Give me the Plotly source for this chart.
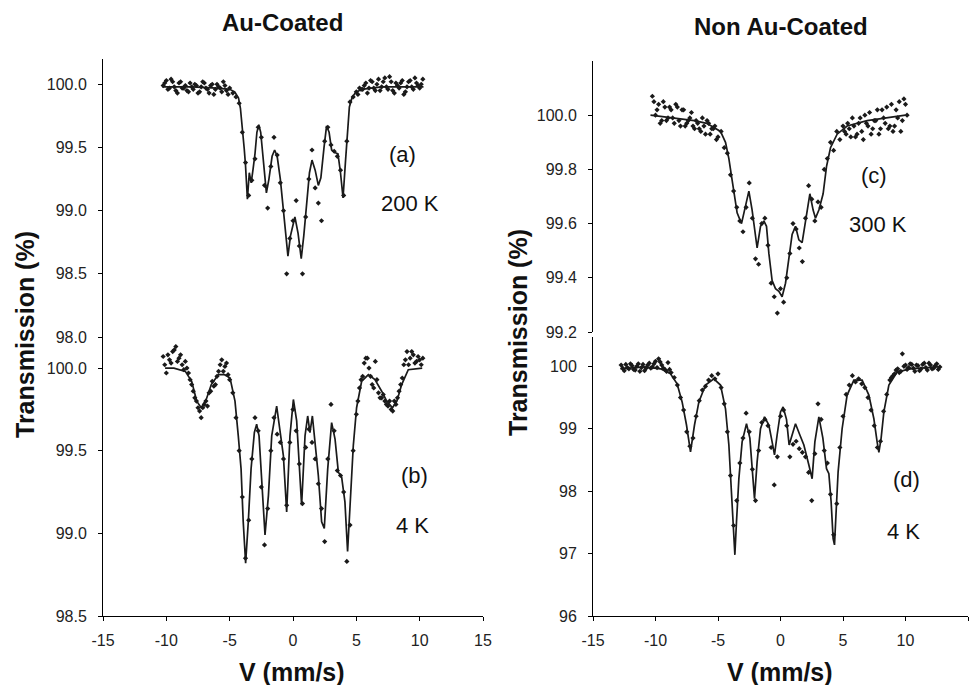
import plotly.graph_objects as go

# ---------------- data ----------------
# velocity grids of the measured points (mm/s)
v_grid_ab = [-10.25, -10.0, -9.75, -9.5, -9.25, -9.0, -8.75, -8.5, -8.25, -8.0,
             -7.75, -7.5, -7.25, -7.0, -6.75, -6.5, -6.25, -6.0, -5.75, -5.5,
             -5.25, -5.0, -4.75, -4.5, -4.25, -4.0, -3.75, -3.5, -3.25, -3.0,
             -2.75, -2.5, -2.25, -2.0, -1.75, -1.5, -1.25, -1.0, -0.75, -0.5,
             -0.25, 0.0, 0.25, 0.5, 0.75, 1.0, 1.25, 1.5, 1.75, 2.0,
             2.25, 2.5, 2.75, 3.0, 3.25, 3.5, 3.75, 4.0, 4.25, 4.5,
             4.75, 5.0, 5.25, 5.5, 5.75, 6.0, 6.25, 6.5, 6.75, 7.0,
             7.25, 7.5, 7.75, 8.0, 8.25, 8.5, 8.75, 9.0, 9.25, 9.5,
             9.75, 10.0, 10.25]
v_grid_c = [-10.25, -10.0, -9.75, -9.5, -9.25, -9.0, -8.75, -8.5, -8.25, -8.0,
            -7.75, -7.5, -7.25, -7.0, -6.75, -6.5, -6.25, -6.0, -5.75, -5.5,
            -5.25, -5.0, -4.75, -4.5, -4.25, -4.0, -3.75, -3.5, -3.25, -3.0,
            -2.75, -2.5, -2.25, -2.0, -1.75, -1.5, -1.25, -1.0, -0.75, -0.5,
            -0.25, 0.0, 0.25, 0.5, 0.75, 1.0, 1.25, 1.5, 1.75, 2.0,
            2.25, 2.5, 2.75, 3.0, 3.25, 3.5, 3.75, 4.0, 4.25, 4.5,
            4.75, 5.0, 5.25, 5.5, 5.75, 6.0, 6.25, 6.5, 6.75, 7.0,
            7.25, 7.5, 7.75, 8.0, 8.25, 8.5, 8.75, 9.0, 9.25, 9.5,
            9.75, 10.0]
v_grid_d = [-12.75, -12.5, -12.25, -12.0, -11.75, -11.5, -11.25, -11.0, -10.75, -10.5,
            -10.25, -10.0, -9.75, -9.5, -9.25, -9.0, -8.75, -8.5, -8.25, -8.0,
            -7.75, -7.5, -7.25, -7.0, -6.75, -6.5, -6.25, -6.0, -5.75, -5.5,
            -5.25, -5.0, -4.75, -4.5, -4.25, -4.0, -3.75, -3.5, -3.25, -3.0,
            -2.75, -2.5, -2.25, -2.0, -1.75, -1.5, -1.25, -1.0, -0.75, -0.5,
            -0.25, 0.0, 0.25, 0.5, 0.75, 1.0, 1.25, 1.5, 1.75, 2.0,
            2.25, 2.5, 2.75, 3.0, 3.25, 3.5, 3.75, 4.0, 4.25, 4.5,
            4.75, 5.0, 5.25, 5.5, 5.75, 6.0, 6.25, 6.5, 6.75, 7.0,
            7.25, 7.5, 7.75, 8.0, 8.25, 8.5, 8.75, 9.0, 9.25, 9.5,
            9.75, 10.0, 10.25, 10.5, 10.75, 11.0, 11.25, 11.5, 11.75, 12.0,
            12.25, 12.5, 12.75]
# interleaved channels in the wings
v_half_abc = [-10.125, -9.875, -9.625, -9.375, -9.125, -8.875, -8.625, -8.375, -8.125, -7.875,
              -7.625, -7.375, -7.125, -6.875, -6.625, -6.375, -6.125, -5.875, -5.625, -5.375,
              -5.125, 5.125, 5.375, 5.625, 5.875, 6.125, 6.375, 6.625, 6.875, 7.125,
              7.375, 7.625, 7.875, 8.125, 8.375, 8.625, 8.875, 9.125, 9.375, 9.625,
              9.875, 10.125]
v_half_d = [-12.625, -12.375, -12.125, -11.875, -11.625, -11.375, -11.125, -10.875, -10.625, -10.375,
            -10.125, -9.875, -9.625, -9.375, -9.125, -8.875, 8.875, 9.125, 9.375, 9.625,
            9.875, 10.125, 10.375, 10.625, 10.875, 11.125, 11.375, 11.625, 11.875, 12.125,
            12.375, 12.625]

# (a) Au-coated, 200 K : measured points
pts_a = [99.99, 100.03, 99.97, 100.02, 99.95, 100.01, 99.97, 99.99, 99.94, 99.98,
         100.0, 99.93, 99.98, 100.01, 99.96, 99.99, 99.92, 100.0, 99.97, 100.02,
         99.95, 99.97, 99.93, 99.90, 99.85, 99.62, 99.38, 99.12, 99.24, 99.41,
         99.66, 99.58, 99.20, 99.02, 99.35, 99.58, 99.44, 99.22, 99.0, 98.50,
         98.78, 98.92, 99.08, 98.72, 98.50, 98.95, 99.25, 99.48, 99.18, 99.06,
         98.92, 99.55, 99.66, 99.52, 99.47, 99.43, 99.32, 99.12, 99.55, 99.86,
         99.90, 99.94, 99.97, 99.96, 100.01, 99.97, 100.02, 99.95, 100.04, 99.98,
         100.05, 99.96, 100.02, 99.93, 99.99, 100.01, 99.92, 99.98, 100.03, 99.96,
         100.01, 99.97, 100.04]
pts_a_half = [100.01, 99.96, 100.04, 99.98, 99.93, 100.02, 99.97, 99.95, 100.01, 99.96,
              99.99, 99.94, 100.02, 99.97, 99.93, 100.0, 99.96, 99.98, 99.94, 99.99,
              99.92, 99.92, 99.96, 99.99, 99.93, 100.03, 99.97, 100.0, 99.95, 100.02,
              99.98, 100.06, 99.95, 100.01, 99.97, 100.03, 99.94, 100.02, 99.98, 100.05,
              99.99, 100.0]
# (b) Au-coated, 4 K
pts_b = [100.07, 99.97, 100.05, 100.10, 100.13, 100.06, 100.02, 100.04, 99.97, 99.90,
         99.82, 99.76, 99.70, 99.78, 99.77, 99.86, 99.89, 99.95, 100.02, 99.98,
         100.03, 99.93, 99.85, 99.70, 99.50, 99.22, 98.85, 99.08, 99.45, 99.70,
         99.62, 99.28, 98.93, 99.15, 99.50, 99.70, 99.60, 99.55, 99.45, 99.17,
         99.55, 99.75, 99.62, 99.42, 99.18, 99.52, 99.63, 99.55, 99.45, 99.30,
         99.15, 98.95, 99.45, 99.78, 99.62, 99.38, 99.35, 99.25, 98.83, 99.05,
         99.50, 99.72, 99.88, 99.95, 100.06, 100.0, 99.90, 100.04, 99.85, 99.82,
         99.80, 99.77, 99.75, 99.80, 99.82, 99.90, 100.02, 100.10, 100.06, 100.08,
         100.04, 100.05, 100.06]
pts_b_half = [100.02, 100.08, 100.03, 100.11, 100.04, 100.08, 99.99, 100.0, 99.93, 99.86,
              99.80, 99.74, 99.76, 99.80, 99.85, 99.92, 99.90, 99.98, 100.05, 100.01,
              99.96, 99.80, 99.93, 100.03, 100.06, 99.95, 99.88, 99.93, 99.82, 99.84,
              99.78, 99.80, 99.74, 99.78, 99.86, 99.94, 100.05, 100.02, 100.10, 100.03,
              100.07, 100.02]
# (c) non Au-coated, 300 K
pts_c = [100.07, 100.0, 100.04, 99.98, 100.03, 99.99, 100.02, 99.97, 100.03, 99.96,
         100.02, 99.97, 99.99, 99.96, 99.98, 99.95, 99.99, 99.93, 99.97, 99.95,
         99.96, 99.92, 99.94, 99.88, 99.86, 99.78, 99.72, 99.66, 99.61, 99.57,
         99.66, 99.75, 99.62, 99.47, 99.45, 99.60, 99.62, 99.52, 99.38, 99.33,
         99.27, 99.36, 99.31, 99.40, 99.49, 99.60, 99.58, 99.51, 99.46, 99.62,
         99.74, 99.69, 99.61, 99.68, 99.66, 99.80, 99.84, 99.90, 99.87, 99.94,
         99.91, 99.96, 99.93, 99.95, 99.99, 99.92, 99.97, 99.94, 100.0, 99.96,
         99.93, 99.98, 100.02, 99.95, 99.99, 100.03, 99.96, 99.94, 100.02, 100.05,
         99.98, 100.04]
pts_c_half = [100.05, 100.02, 99.97, 100.05, 99.98, 100.03, 99.99, 100.04, 99.98, 100.02,
              99.96, 99.98, 100.01, 99.95, 99.97, 99.94, 99.96, 99.98, 99.93, 99.95,
              99.91, 99.94, 99.97, 99.92, 99.96, 99.93, 99.99, 99.91, 99.97, 100.01,
              99.95, 99.98, 99.93, 100.02, 99.97, 99.95, 100.04, 99.96, 99.99, 99.94,
              100.06, 100.0]
# (d) non Au-coated, 4 K
pts_d = [100.02, 99.93, 99.98, 100.04, 99.95, 100.0, 99.92, 100.03, 99.97, 100.05,
         99.99, 100.08, 100.12, 100.02, 99.95, 100.06, 99.90, 99.82, 99.70, 99.50,
         99.30, 98.95, 98.72, 98.85, 99.20, 99.45, 99.62, 99.68, 99.78, 99.85,
         99.80, 99.88, 99.66, 99.40, 98.95, 98.25, 97.45, 97.85, 98.45, 98.85,
         99.25, 98.95, 98.35, 97.85, 98.65, 99.10, 99.15, 99.05, 98.70, 98.10,
         98.55, 99.20, 99.30, 99.05, 98.55, 98.75, 98.80, 98.68, 98.62, 98.55,
         98.30, 97.85, 98.60, 99.40, 99.15, 98.65, 98.45, 97.95, 97.30, 97.80,
         98.70, 99.20, 99.55, 99.70, 99.85, 99.75, 99.80, 99.72, 99.66, 99.50,
         99.30, 99.05, 98.70, 98.80, 99.28, 99.55, 99.78, 99.85, 99.94, 99.90,
         100.20, 100.02, 99.98, 100.03, 99.92, 100.01, 99.96, 100.05, 99.94, 100.02,
         99.97, 100.04, 99.99]
pts_d_half = [99.97, 100.03, 99.96, 100.01, 99.94, 100.04, 99.98, 99.93, 100.02, 99.97,
              100.04, 99.98, 100.07, 99.97, 99.92, 99.95, 99.82, 99.88, 99.96, 99.92,
              100.0, 99.95, 100.04, 99.97, 100.02, 99.93, 100.03, 99.98, 100.05, 99.96,
              100.01, 99.95]

# fitted curves
fit_a_x = [-10.3, -8.0, -6.0, -5.0, -4.6, -4.3, -4.15, -4.0, -3.85, -3.75, -3.6, -3.45, -3.3,
           -3.15, -3.0, -2.85, -2.7, -2.55, -2.35, -2.1, -1.9, -1.65, -1.45, -1.25, -1.0,
           -0.7, -0.4, -0.2, 0.15, 0.4, 0.65, 0.85, 1.05, 1.3, 1.5, 1.75, 2.0, 2.2, 2.45,
           2.65, 2.85, 3.05, 3.3, 3.55, 3.75, 3.95, 4.15, 4.3, 4.45, 4.65, 4.9, 5.4, 7.0, 10.3]
fit_a_y = [99.98, 99.98, 99.97, 99.96, 99.94, 99.89, 99.81, 99.67, 99.49, 99.36, 99.09, 99.30, 99.22,
           99.33, 99.45, 99.62, 99.68, 99.62, 99.40, 99.14, 99.25, 99.43, 99.48, 99.43, 99.25,
           98.95, 98.64, 98.80, 98.95, 98.82, 98.62, 98.80, 99.00, 99.30, 99.40, 99.32, 99.20, 99.26, 99.50,
           99.67, 99.62, 99.48, 99.46, 99.45, 99.30, 99.10, 99.40, 99.65, 99.82, 99.89, 99.93, 99.96, 99.98, 99.98]

fit_b_x = [-10.1, -9.4, -8.5, -8.0, -7.6, -7.25, -6.85, -6.45, -5.9, -5.4, -4.97, -4.58, -4.32,
           -4.1, -3.93, -3.74, -3.53, -3.31, -3.05, -2.87, -2.68, -2.47, -2.21, -1.94, -1.68,
           -1.29, -1.03, -0.76, -0.5, -0.24, 0.03, 0.29, 0.68, 0.95, 1.16, 1.34, 1.53, 1.74,
           2.0, 2.26, 2.47, 2.74, 3.05, 3.32, 3.58, 3.84, 4.1, 4.31, 4.52, 4.76, 5.02, 5.42,
           5.95, 6.47, 7.0, 7.4, 7.85, 8.2, 8.58, 9.1, 10.2]
fit_b_y = [100.0, 100.0, 99.98, 99.92, 99.80, 99.76, 99.81, 99.90, 99.96, 99.96, 99.94, 99.80, 99.59,
           99.39, 99.07, 98.82, 99.07, 99.39, 99.61, 99.66, 99.59, 99.29, 98.99, 99.23, 99.59,
           99.77, 99.61, 99.47, 99.13, 99.59, 99.81, 99.68, 99.17, 99.59, 99.71, 99.61, 99.71, 99.55,
           99.35, 99.07, 99.03, 99.39, 99.67, 99.57, 99.37, 99.34, 99.19, 98.89, 99.19, 99.53, 99.76, 99.92,
           99.96, 99.93, 99.86, 99.80, 99.76, 99.80, 99.90, 99.99, 100.0]

fit_c_x = [-10.4, -8.5, -6.9, -5.9, -4.8, -4.4, -4.13, -3.87, -3.68, -3.47, -3.12, -2.8, -2.53,
           -2.27, -2.05, -1.87, -1.6, -1.33, -1.12, -0.93, -0.67, -0.4, -0.13, 0.13, 0.4, 0.67,
           0.93, 1.2, 1.47, 1.73, 2.0, 2.35, 2.61, 2.8, 3.07, 3.41, 3.68, 4.0, 4.53, 5.33, 6.93, 10.0]
fit_c_y = [100.0, 99.99, 99.98, 99.97, 99.94, 99.90, 99.84, 99.76, 99.70, 99.64, 99.60, 99.67, 99.72,
           99.65, 99.56, 99.51, 99.59, 99.61, 99.59, 99.49, 99.39, 99.36, 99.35, 99.33, 99.38, 99.47,
           99.56, 99.59, 99.54, 99.53, 99.61, 99.71, 99.65, 99.62, 99.65, 99.71, 99.81, 99.88, 99.93,
           99.96, 99.98, 100.0]

fit_d_x = [-12.8, -10.9, -9.6, -8.8, -8.27, -7.87, -7.52, -7.2, -6.88, -6.53, -6.0, -5.33, -4.8,
           -4.4, -4.13, -3.95, -3.79, -3.65, -3.52, -3.33, -3.07, -2.72, -2.45, -2.27, -2.08,
           -1.87, -1.6, -1.28, -0.93, -0.67, -0.48, -0.27, 0.0, 0.21, 0.48, 0.69, 0.91, 1.2,
           1.55, 1.87, 2.27, 2.53, 2.75, 3.07, 3.39, 3.68, 3.87, 4.05, 4.21, 4.32, 4.45, 4.61,
           4.93, 5.33, 5.87, 6.53, 7.07, 7.47, 7.73, 7.87, 8.05, 8.27, 8.67, 9.33, 10.4, 12.6]
fit_d_y = [99.96, 99.99, 99.96, 99.88, 99.72, 99.43, 99.06, 98.63, 99.06, 99.43, 99.70, 99.80, 99.70,
           99.32, 98.74, 98.10, 97.51, 96.98, 97.51, 98.20, 98.79, 99.08, 98.85, 98.31, 97.88,
           98.47, 99.00, 99.19, 99.06, 98.79, 98.58, 98.90, 99.27, 99.35, 99.15, 98.74, 98.90, 99.08,
           98.90, 98.74, 98.42, 98.20, 98.79, 99.19, 98.85, 98.36, 98.28, 97.83, 97.24, 97.14, 97.67, 98.31,
           99.00, 99.54, 99.78, 99.78, 99.54, 99.16, 98.79, 98.62, 98.85, 99.27, 99.70, 99.91, 99.96, 99.99]

x_ticks = [-15, -10, -5, 0, 5, 10, 15]
x_tick_labels = ["-15", "-10", "-5", "0", "5", "10", "15"]
y_ticks_a = [98.0, 98.5, 99.0, 99.5, 100.0]
y_ticks_b = [98.5, 99.0, 99.5, 100.0]
y_ticks_c = [99.2, 99.4, 99.6, 99.8, 100.0]
y_ticks_d = [96, 97, 98, 99, 100]

# ---------------- figure ----------------
W, H = 974, 685
FONT = "Arial, Liberation Sans, sans-serif"
INK = "#1a1a1a"

def px_x(p):
    return p / W

def px_y(p):
    return 1 - p / H

fig = go.Figure()
panels = [
    (v_grid_ab, pts_a, v_half_abc, pts_a_half, fit_a_x, fit_a_y, "x", "y"),
    (v_grid_ab, pts_b, v_half_abc, pts_b_half, fit_b_x, fit_b_y, "x2", "y2"),
    (v_grid_c, pts_c, v_half_abc, pts_c_half, fit_c_x, fit_c_y, "x3", "y3"),
    (v_grid_d, pts_d, v_half_d, pts_d_half, fit_d_x, fit_d_y, "x4", "y4"),
]
for vx, vy, hx, hy, fx, fy, xa, ya in panels:
    for px_, py_ in ((vx, vy), (hx, hy)):
        fig.add_trace(go.Scatter(x=px_, y=py_, mode="markers", xaxis=xa, yaxis=ya,
                                 marker=dict(symbol="diamond", size=4, color=INK),
                                 showlegend=False, hoverinfo="skip"))
    fig.add_trace(go.Scatter(x=fx, y=fy, mode="lines", xaxis=xa, yaxis=ya,
                             line=dict(color=INK, width=1.7),
                             showlegend=False, hoverinfo="skip"))

tickfont = dict(family=FONT, size=16, color="#222")
yax_common = dict(showline=True, linecolor="black", linewidth=1, ticks="outside",
                  ticklen=4, tickcolor="black", showgrid=False, zeroline=False,
                  tickfont=tickfont, ticklabelstandoff=8, automargin=False)
xax_common = dict(range=[-15, 15], showline=True, linecolor="black", linewidth=1,
                  ticks="outside", ticklen=4, tickcolor="black", showgrid=False,
                  zeroline=False, tickvals=x_ticks, ticktext=x_tick_labels,
                  tickfont=tickfont, ticklabelstandoff=6, automargin=False)

left_dom = [px_x(103), px_x(483)]
right_dom = [px_x(593), px_x(968)]

fig.update_layout(
    width=W, height=H,
    margin=dict(l=0, r=0, t=0, b=0, pad=0),
    paper_bgcolor="white", plot_bgcolor="rgba(0,0,0,0)",
    xaxis=dict(domain=left_dom, range=[-15, 15], anchor="y", visible=False, automargin=False),
    yaxis=dict(domain=[px_y(337), px_y(59)], range=[98.0, 100.2], anchor="x",
               tickvals=y_ticks_a, tickformat=".1f", **yax_common),
    xaxis2=dict(domain=left_dom, anchor="y2", **xax_common),
    yaxis2=dict(domain=[px_y(616), px_y(335)], range=[98.5, 100.2], anchor="x2",
                tickvals=y_ticks_b, tickformat=".1f", **yax_common),
    xaxis3=dict(domain=right_dom, range=[-15, 15], anchor="y3", visible=False, automargin=False),
    yaxis3=dict(domain=[px_y(332), px_y(61)], range=[99.2, 100.2], anchor="x3",
                tickvals=y_ticks_c, tickformat=".1f", **yax_common),
    xaxis4=dict(domain=right_dom, anchor="y4", **xax_common),
    yaxis4=dict(domain=[px_y(616), px_y(337)], range=[96, 100.47], anchor="x4",
                tickvals=y_ticks_d, tickformat="d", **yax_common),
)

def note(text, x, y, size, bold=False, angle=0):
    fig.add_annotation(text=f"<b>{text}</b>" if bold else text,
                       x=px_x(x), y=px_y(y), xref="paper", yref="paper",
                       xanchor="center", yanchor="middle", showarrow=False,
                       textangle=angle,
                       font=dict(family=FONT, size=size, color="#111"))

note("Au-Coated", 282, 23, 24, bold=True)
note("Non Au-Coated", 781, 26, 24, bold=True)
note("Transmission (%)", 25, 335, 25, bold=True, angle=-90)
note("Transmission (%)", 518, 333, 25, bold=True, angle=-90)
note("V (mm/s)", 292, 672, 25, bold=True)
note("V (mm/s)", 780, 672, 25, bold=True)
note("(a)", 402, 154, 22)
note("200 K", 410, 203, 22)
note("(b)", 414, 475, 22)
note("4 K", 412, 525, 22)
note("(c)", 874, 176, 22)
note("300 K", 878, 225, 22)
note("(d)", 906, 479, 22)
note("4 K", 903, 531, 22)

fig.write_html(
    "out.html",
    config={"displayModeBar": False, "responsive": False},
    post_script="document.body.style.margin='0px';document.body.style.padding='0px';"
                "document.body.style.overflow='hidden';",
)
